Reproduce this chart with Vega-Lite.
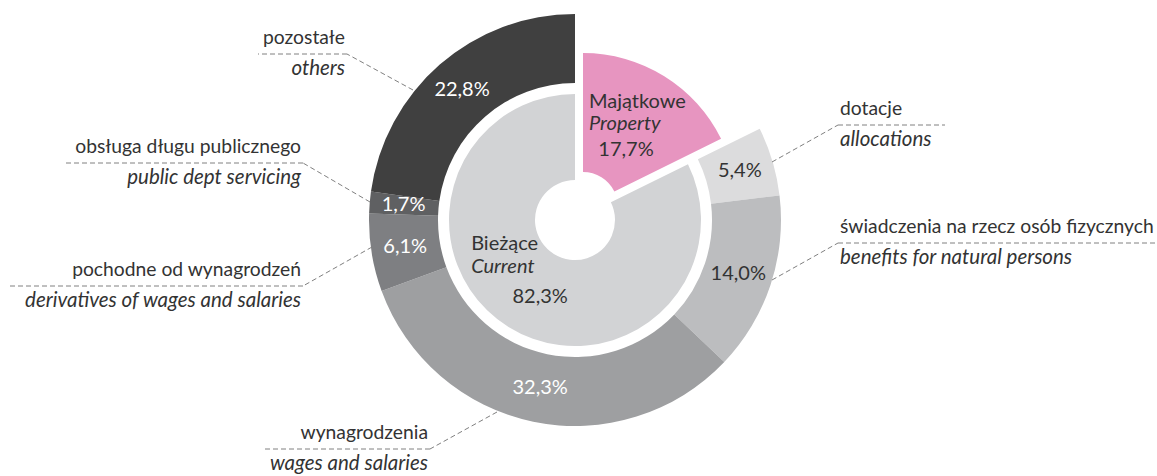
{
  "$schema": "https://vega.github.io/schema/vega-lite/v6.json",
  "width": 1157,
  "height": 476,
  "autosize": "none",
  "padding": 0,
  "background": "white",
  "config": {
    "view": {"stroke": null},
    "font": "Lato",
    "text": {"font": "Lato", "fill": "#333333"},
    "locale": {"number": {"decimal": ",", "thousands": " ", "grouping": [3], "currency": ["", " zł"]}}
  },
  "datasets": {
    "inner": [
      {"name": "Majątkowe", "en": "Property", "share": 0.177, "ord": 0},
      {"name": "Bieżące", "en": "Current", "share": 0.823, "ord": 1}
    ],
    "outer": [
      {"name": "Majątkowe", "share": 0.177, "ord": 0},
      {"name": "dotacje", "share": 0.054, "ord": 1},
      {"name": "świadczenia na rzecz osób fizycznych", "share": 0.14, "ord": 2},
      {"name": "wynagrodzenia", "share": 0.323, "ord": 3},
      {"name": "pochodne od wynagrodzeń", "share": 0.061, "ord": 4},
      {"name": "obsługa długu publicznego", "share": 0.017, "ord": 5},
      {"name": "pozostałe", "share": 0.228, "ord": 6}
    ],
    "leaders": [
      {"pl": "pozostałe", "en": "others", "side": "L", "ex": -162, "ey": 130, "kx": -228, "ky": 166, "hx": -317},
      {"pl": "obsługa długu publicznego", "en": "public dept servicing", "side": "L", "ex": -205, "ey": 18, "kx": -272, "ky": 57, "hx": -510},
      {"pl": "pochodne od wynagrodzeń", "en": "derivatives of wages and salaries", "side": "L", "ex": -203, "ey": -27, "kx": -272, "ky": -66, "hx": -565},
      {"pl": "wynagrodzenia", "en": "wages and salaries", "side": "L", "ex": -78, "ey": -192, "kx": -145, "ky": -229, "hx": -313},
      {"pl": "dotacje", "en": "allocations", "side": "R", "ex": 197, "ey": 58, "kx": 263, "ky": 95, "hx": 370},
      {"pl": "świadczenia na rzecz osób fizycznych", "en": "benefits for natural persons", "side": "R", "ex": 197, "ey": -60, "kx": 263, "ky": -23, "hx": 582}
    ]
  },
  "layer": [
    {
      "data": {"name": "outer"},
      "mark": {"type": "arc", "radius": 206, "radius2": 137},
      "encoding": {
        "x": {"datum": 0, "type": "quantitative", "scale": {"domain": [-575, 582], "nice": false, "zero": false}, "axis": null},
        "y": {"datum": 0, "type": "quantitative", "scale": {"domain": [-256, 220], "nice": false, "zero": false}, "axis": null},
        "theta": {"field": "share", "type": "quantitative", "stack": true},
        "order": {"field": "ord", "type": "quantitative"},
        "color": {"field": "name", "type": "nominal", "legend": null, "scale": {"domain": ["Majątkowe", "Bieżące", "dotacje", "świadczenia na rzecz osób fizycznych", "wynagrodzenia", "pochodne od wynagrodzeń", "obsługa długu publicznego", "pozostałe"], "range": ["#E795C0", "#D2D3D5", "#DCDCDD", "#BCBDBF", "#9E9FA1", "#7E7F82", "#5F6062", "#404040"]}},
        "fillOpacity": {"condition": {"test": "datum.name === 'Majątkowe'", "value": 0}, "value": 1}
      }
    },
    {
      "data": {"name": "inner"},
      "mark": {"type": "arc", "radius": 126, "radius2": 40},
      "encoding": {
        "x": {"datum": 0, "type": "quantitative"},
        "y": {"datum": 0, "type": "quantitative"},
        "theta": {"field": "share", "type": "quantitative", "stack": true},
        "order": {"field": "ord", "type": "quantitative"},
        "color": {"field": "name", "type": "nominal", "legend": null},
        "fillOpacity": {"condition": {"test": "datum.name === 'Majątkowe'", "value": 0}, "value": 1}
      }
    },
    {
      "data": {"name": "inner"},
      "mark": {"type": "arc", "radius": 154, "radius2": 35},
      "encoding": {
        "x": {"datum": 8, "type": "quantitative"},
        "y": {"datum": 13, "type": "quantitative"},
        "theta": {"field": "share", "type": "quantitative", "stack": true},
        "order": {"field": "ord", "type": "quantitative"},
        "color": {"field": "name", "type": "nominal", "legend": null},
        "fillOpacity": {"condition": {"test": "datum.name === 'Bieżące'", "value": 0}, "value": 1}
      }
    },
    {
      "data": {"name": "outer"},
      "mark": {"type": "text", "radius": 172, "fontSize": 20, "align": "center", "baseline": "middle"},
      "encoding": {
        "x": {"datum": 0, "type": "quantitative"},
        "y": {"datum": 0, "type": "quantitative"},
        "theta": {"field": "share", "type": "quantitative", "stack": true},
        "order": {"field": "ord", "type": "quantitative"},
        "text": {"condition": {"test": "datum.name === 'Majątkowe'", "value": ""}, "field": "share", "type": "quantitative", "format": ".1%"},
        "color": {"condition": {"test": "datum.name === 'dotacje' || datum.name === 'świadczenia na rzecz osób fizycznych'", "value": "#333333"}, "value": "#ffffff"}
      }
    },
    {
      "data": {"name": "inner"},
      "mark": {"type": "text", "radius": 85, "fontSize": 20, "align": "left", "baseline": "middle", "dx": -59, "dy": -48},
      "encoding": {
        "x": {"datum": 0, "type": "quantitative"},
        "y": {"datum": 0, "type": "quantitative"},
        "theta": {"field": "share", "type": "quantitative", "stack": true},
        "order": {"field": "ord", "type": "quantitative"},
        "text": {"condition": {"test": "datum.name === 'Majątkowe'", "value": ""}, "field": "name", "type": "nominal"}
      }
    },
    {
      "data": {"name": "inner"},
      "mark": {"type": "text", "radius": 85, "fontSize": 20, "fontStyle": "italic", "align": "left", "baseline": "middle", "dx": -59, "dy": -25},
      "encoding": {
        "x": {"datum": 0, "type": "quantitative"},
        "y": {"datum": 0, "type": "quantitative"},
        "theta": {"field": "share", "type": "quantitative", "stack": true},
        "order": {"field": "ord", "type": "quantitative"},
        "text": {"condition": {"test": "datum.name === 'Majątkowe'", "value": ""}, "field": "en", "type": "nominal"}
      }
    },
    {
      "data": {"name": "inner"},
      "mark": {"type": "text", "radius": 85, "fontSize": 20, "align": "center", "baseline": "middle", "dx": 10, "dy": 5},
      "encoding": {
        "x": {"datum": 0, "type": "quantitative"},
        "y": {"datum": 0, "type": "quantitative"},
        "theta": {"field": "share", "type": "quantitative", "stack": true},
        "order": {"field": "ord", "type": "quantitative"},
        "text": {"condition": {"test": "datum.name === 'Majątkowe'", "value": ""}, "field": "share", "type": "quantitative", "format": ".1%"}
      }
    },
    {
      "data": {"name": "inner"},
      "mark": {"type": "text", "radius": 90, "fontSize": 20, "align": "left", "baseline": "middle", "dx": -41.5, "dy": -29},
      "encoding": {
        "x": {"datum": 8, "type": "quantitative"},
        "y": {"datum": 13, "type": "quantitative"},
        "theta": {"field": "share", "type": "quantitative", "stack": true},
        "order": {"field": "ord", "type": "quantitative"},
        "text": {"condition": {"test": "datum.name === 'Bieżące'", "value": ""}, "field": "name", "type": "nominal"}
      }
    },
    {
      "data": {"name": "inner"},
      "mark": {"type": "text", "radius": 90, "fontSize": 20, "fontStyle": "italic", "align": "left", "baseline": "middle", "dx": -41.5, "dy": -6.6},
      "encoding": {
        "x": {"datum": 8, "type": "quantitative"},
        "y": {"datum": 13, "type": "quantitative"},
        "theta": {"field": "share", "type": "quantitative", "stack": true},
        "order": {"field": "ord", "type": "quantitative"},
        "text": {"condition": {"test": "datum.name === 'Bieżące'", "value": ""}, "field": "en", "type": "nominal"}
      }
    },
    {
      "data": {"name": "inner"},
      "mark": {"type": "text", "radius": 90, "fontSize": 20, "align": "center", "baseline": "middle", "dx": -4.5, "dy": 19.4},
      "encoding": {
        "x": {"datum": 8, "type": "quantitative"},
        "y": {"datum": 13, "type": "quantitative"},
        "theta": {"field": "share", "type": "quantitative", "stack": true},
        "order": {"field": "ord", "type": "quantitative"},
        "text": {"condition": {"test": "datum.name === 'Bieżące'", "value": ""}, "field": "share", "type": "quantitative", "format": ".1%"}
      }
    },
    {
      "data": {"name": "leaders"},
      "mark": {"type": "rule", "color": "#808080", "strokeWidth": 1, "strokeDash": [5, 3]},
      "encoding": {
        "x": {"field": "ex", "type": "quantitative"},
        "y": {"field": "ey", "type": "quantitative"},
        "x2": {"field": "kx"},
        "y2": {"field": "ky"}
      }
    },
    {
      "data": {"name": "leaders"},
      "mark": {"type": "rule", "color": "#808080", "strokeWidth": 1, "strokeDash": [5, 3]},
      "encoding": {
        "x": {"field": "kx", "type": "quantitative"},
        "y": {"field": "ky", "type": "quantitative"},
        "x2": {"field": "hx"}
      }
    },
    {
      "data": {"name": "leaders"},
      "transform": [{"filter": "datum.side === 'L'"}],
      "mark": {"type": "text", "fontSize": 19.3, "align": "right", "baseline": "middle", "dx": -2, "dy": -16},
      "encoding": {
        "x": {"field": "kx", "type": "quantitative"},
        "y": {"field": "ky", "type": "quantitative"},
        "text": {"field": "pl", "type": "nominal"}
      }
    },
    {
      "data": {"name": "leaders"},
      "transform": [{"filter": "datum.side === 'L'"}],
      "mark": {"type": "text", "fontSize": 20.5, "fontStyle": "italic", "align": "right", "baseline": "middle", "dx": -2, "dy": 15},
      "encoding": {
        "x": {"field": "kx", "type": "quantitative"},
        "y": {"field": "ky", "type": "quantitative"},
        "text": {"field": "en", "type": "nominal"}
      }
    },
    {
      "data": {"name": "leaders"},
      "transform": [{"filter": "datum.side === 'R'"}],
      "mark": {"type": "text", "fontSize": 19.3, "align": "left", "baseline": "middle", "dx": 2, "dy": -16},
      "encoding": {
        "x": {"field": "kx", "type": "quantitative"},
        "y": {"field": "ky", "type": "quantitative"},
        "text": {"field": "pl", "type": "nominal"}
      }
    },
    {
      "data": {"name": "leaders"},
      "transform": [{"filter": "datum.side === 'R'"}],
      "mark": {"type": "text", "fontSize": 20.5, "fontStyle": "italic", "align": "left", "baseline": "middle", "dx": 2, "dy": 15},
      "encoding": {
        "x": {"field": "kx", "type": "quantitative"},
        "y": {"field": "ky", "type": "quantitative"},
        "text": {"field": "en", "type": "nominal"}
      }
    }
  ]
}
